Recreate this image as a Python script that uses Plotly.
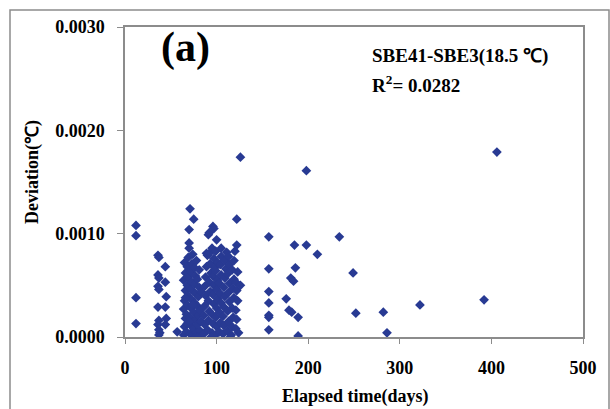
import plotly.graph_objects as go

# Elapsed time (days) and deviation (°C)
early_x = [12, 12, 12, 12]
early_y = [0.00108, 0.00098, 0.00038, 0.00013]

clusterA_x = [36, 37, 36, 37, 36, 37, 36, 37, 36, 37, 38, 37,
              44, 44, 45, 44, 45, 44, 57]
clusterA_y = [0.00079, 0.00077, 0.00060, 0.00057, 0.00049, 0.00046, 0.00029, 0.00016, 0.00012, 0.00007, 0.00004, 0.00002,
              0.00068, 0.00053, 0.00039, 0.00029, 0.00018, 0.00012, 0.00005]

clusterB_x = [64, 65, 66, 64, 65, 66, 64, 66, 65, 67, 68, 67, 68, 69, 68, 69, 68, 69, 70, 70,
              70, 71, 75, 71, 72, 71, 72, 73, 72, 73, 72, 73, 74, 74, 75, 76, 75, 76, 77, 76,
              77, 76, 78, 78, 79, 80, 79, 80, 81, 79, 81, 82, 83, 82, 83, 74, 70, 66, 77, 80]
clusterB_y = [0.00002, 0.00010, 0.00018, 0.00027, 0.00035, 0.00045, 0.00055, 0.00062, 0.00072, 0.00005,
              0.00013, 0.00022, 0.00031, 0.00040, 0.00050, 0.00058, 0.00068, 0.00077, 0.00086, 0.00091,
              0.00104, 0.00124, 0.00114, 0.00003, 0.00011, 0.00019, 0.00028, 0.00036, 0.00046, 0.00053,
              0.00063, 0.00071, 0.00080, 0.00002, 0.00008, 0.00016, 0.00024, 0.00033, 0.00042, 0.00051,
              0.00059, 0.00067, 0.00074, 0.00004, 0.00012, 0.00021, 0.00030, 0.00039, 0.00048, 0.00056,
              0.00065, 0.00006, 0.00015, 0.00026, 0.00044, 0.00031, 0.00015, 0.00038, 0.00000, 0.00000]

clusterC_x = [86, 87, 86, 87, 88, 87, 88, 89, 90, 89, 91, 92, 96, 97, 100, 92, 90, 91, 92, 91,
              93, 92, 94, 93, 95, 95, 96, 95, 97, 96, 97, 96, 98, 97, 99, 99, 100, 99, 100, 101,
              100, 101, 99, 101, 94]
clusterC_y = [0.00003, 0.00012, 0.00021, 0.00030, 0.00040, 0.00049, 0.00058, 0.00068, 0.00079, 0.00081,
              0.00099, 0.00101, 0.00107, 0.00105, 0.00094, 0.00081, 0.00007, 0.00016, 0.00025, 0.00035,
              0.00044, 0.00053, 0.00062, 0.00071, 0.00086, 0.00004, 0.00013, 0.00022, 0.00032, 0.00041,
              0.00050, 0.00059, 0.00067, 0.00076, 0.00083, 0.00002, 0.00010, 0.00019, 0.00028, 0.00037,
              0.00046, 0.00055, 0.00064, 0.00072, 0.00000]

clusterD_x = [103, 104, 103, 105, 104, 103, 105, 104, 105, 105, 107, 108, 107, 108, 109, 108, 109, 110,
              109, 111, 112, 113, 112, 114, 113, 114, 112, 114, 113, 116, 117, 118, 117, 119, 118, 119,
              117, 119, 120, 121, 122, 121, 123, 122, 121, 126, 123, 122, 122, 126, 115, 124]
clusterD_y = [0.00005, 0.00014, 0.00024, 0.00033, 0.00042, 0.00052, 0.00060, 0.00070, 0.00078, 0.00086,
              0.00003, 0.00011, 0.00020, 0.00029, 0.00039, 0.00048, 0.00057, 0.00066, 0.00074, 0.00082,
              0.00006, 0.00015, 0.00025, 0.00034, 0.00043, 0.00052, 0.00061, 0.00070, 0.00078, 0.00002,
              0.00010, 0.00019, 0.00028, 0.00038, 0.00047, 0.00056, 0.00065, 0.00074, 0.00083, 0.00008,
              0.00017, 0.00026, 0.00035, 0.00045, 0.00053, 0.00050, 0.00063, 0.00089, 0.00114, 0.00174,
              0.00000, 0.00004]

late_x = [157, 157, 157, 157, 157, 157, 157, 176, 179, 182, 181, 184, 185, 186, 189, 189,
          198, 198, 210, 234, 249, 252, 282, 286, 322, 392, 406]
late_y = [0.00097, 0.00066, 0.00044, 0.00033, 0.00019, 0.00021, 0.00007, 0.00037, 0.00026, 0.00024,
          0.00057, 0.00054, 0.00089, 0.00067, 0.00019, 0.00001,
          0.00161, 0.00089, 0.00080, 0.00097, 0.00062, 0.00023, 0.00024, 0.00004, 0.00031, 0.00036, 0.00179]

x_vals = early_x + clusterA_x + clusterB_x + clusterC_x + clusterD_x + late_x
y_vals = early_y + clusterA_y + clusterB_y + clusterC_y + clusterD_y + late_y

x_ticks = [0, 100, 200, 300, 400, 500]
y_ticks = [0.0, 0.001, 0.002, 0.003]
y_tick_labels = ["0.0000", "0.0010", "0.0020", "0.0030"]

FONT = "Liberation Serif"
BLUE = "#283a93"
GREY = "#8c8c8c"

fig = go.Figure()
fig.add_trace(go.Scatter(
    x=x_vals, y=y_vals, mode="markers",
    marker=dict(symbol="diamond", size=7.5, color=BLUE, line=dict(width=0)),
    showlegend=False, hoverinfo="x+y"))

fig.update_layout(
    width=610, height=409,
    margin=dict(l=125, r=27, t=27, b=72),
    paper_bgcolor="white", plot_bgcolor="white",
    font=dict(family=FONT, color="black", size=14),
    xaxis=dict(
        range=[0, 500], tickvals=x_ticks, ticks="outside", ticklen=5, tickcolor=GREY,
        showline=True, linecolor=GREY, linewidth=1.5, mirror=True, showgrid=False, zeroline=False,
        ticklabelstandoff=9, automargin=False,
        tickfont=dict(family=FONT, size=18, color="black", weight="bold")),
    yaxis=dict(
        range=[0, 0.003], tickvals=y_ticks, ticktext=y_tick_labels, ticks="outside", ticklen=6,
        tickcolor=GREY, showline=True, linecolor=GREY, linewidth=1.5, mirror=True,
        showgrid=False, zeroline=False, ticklabelstandoff=9, automargin=False,
        tickfont=dict(family=FONT, size=18, color="black", weight="bold")),
    shapes=[dict(type="rect", xref="paper", yref="paper",
                 x0=(10 - 125) / 458, x1=(609 - 125) / 458,
                 y0=(337 - 412) / 310, y1=(337 - 10) / 310,
                 line=dict(color=GREY, width=1.5), fillcolor="rgba(0,0,0,0)", layer="below")],
    annotations=[
        dict(text="<b>Elapsed time(days)</b>", x=(355 - 125) / 458, y=(337 - 396) / 310,
             xref="paper", yref="paper", xanchor="center", yanchor="middle", showarrow=False,
             font=dict(family=FONT, size=18, color="black")),
        dict(text="<b>Deviation(℃)</b>", x=(32 - 125) / 458, y=(337 - 172) / 310,
             xref="paper", yref="paper", xanchor="center", yanchor="middle", showarrow=False,
             textangle=-90, font=dict(family=FONT, size=18, color="black")),
        dict(text="<b>(a)</b>", x=(185 - 125) / 458, y=(337 - 47) / 310, xref="paper", yref="paper",
             xanchor="center", yanchor="middle",
             showarrow=False, font=dict(family=FONT, size=42, color="black")),
        dict(text="<b>SBE41-SBE3(18.5 ℃)</b>", x=(370 - 125) / 458, y=(337 - 56) / 310,
             xref="paper", yref="paper", xanchor="left", yanchor="middle", showarrow=False,
             font=dict(family=FONT, size=19, color="black")),
        dict(text="<b>R<sup>2</sup>= 0.0282</b>", x=(370 - 125) / 458, y=(337 - 84) / 310,
             xref="paper", yref="paper", xanchor="left", yanchor="middle", showarrow=False,
             font=dict(family=FONT, size=19, color="black")),
    ],
)

fig.write_html("out.html", config={"displayModeBar": False},
               post_script="document.body.style.margin='0';document.body.style.overflow='hidden';")
